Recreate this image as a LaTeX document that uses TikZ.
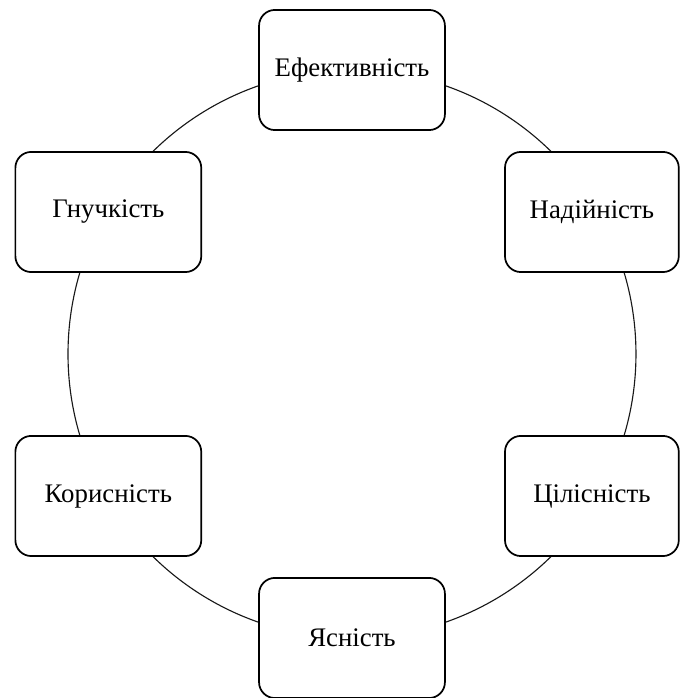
\documentclass[tikz,border=0pt]{standalone}
\usepackage{fontspec}
\setmainfont{Liberation Serif}
\usepackage{tikz}
\usetikzlibrary{positioning, calc}
\tikzset{
    quality/.style={draw=black, line width=1.3pt, fill=white, rounded corners=0.42cm,
        minimum width=4.92cm, minimum height=3.18cm, align=center,
        font=\fontsize{20.2}{24}\selectfont},
    qualityR/.style={quality, minimum width=4.6cm, xshift=-0.16cm},
    qualityL/.style={quality, xshift=0.06cm},
    ring/.style={draw=black!90, line width=0.85pt}
}

\begin{document}
\begin{tikzpicture}
    \useasboundingbox (0,0) rectangle (18cm,-18.476cm);
    % centre of the ring
    \coordinate (C) at (9.317cm,-9.370cm);
    \draw[ring] (C) circle[radius=7.517cm];

    % qualities round the ring
    \node[quality]  (EFF)  at ([shift={(90:7.517cm)}]C)  {Ефективність};
    \node[qualityR] (NAD)  at ([shift={(30:7.517cm)}]C)  {Надійність};
    \node[qualityR] (TSIL) at ([shift={(-30:7.517cm)}]C) {Цілісність};
    \node[quality]  (YAS)  at ([shift={(-90:7.517cm)}]C) {Ясність};
    \node[qualityL] (KOR)  at ([shift={(210:7.517cm)}]C) {Корисність};
    \node[qualityL] (HNU)  at ([shift={(150:7.517cm)}]C) {Гнучкість};
\end{tikzpicture}
\end{document}
